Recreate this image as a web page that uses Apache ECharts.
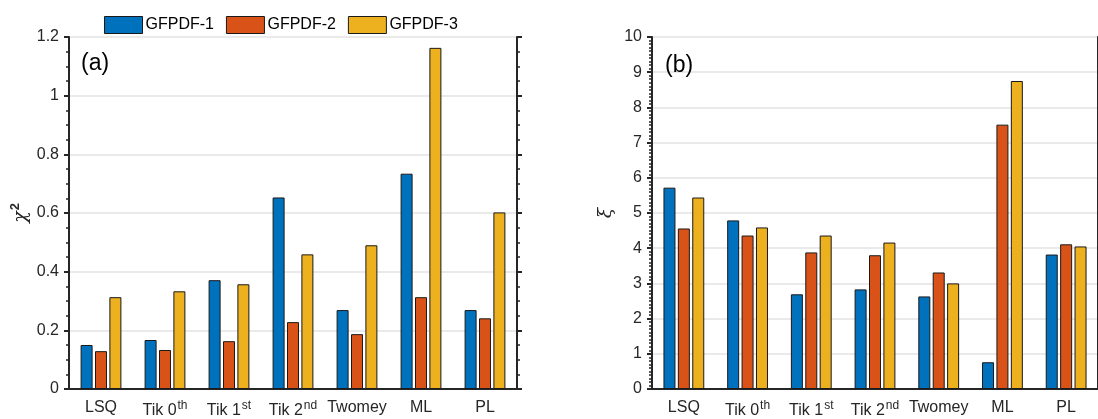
<!DOCTYPE html>
<html lang="en">
<head>
    <meta charset="UTF-8">
    <title>GFPDF comparison</title>
    <style>
        html, body {margin: 0; padding: 0; background: #fff;}
        #main {width: 1098px; height: 419px;}
    </style>
    <script src="https://cdn.jsdelivr.net/npm/echarts@6/dist/echarts.min.js"></script>
</head>
<body>
<div id="main"></div>
<script>
    // categories and their superscripts
    var methods = ['LSQ', 'Tik 0', 'Tik 1', 'Tik 2', 'Twomey', 'ML', 'PL'];
    var methodSup = ['', 'th', 'st', 'nd', '', '', ''];
    var seriesNames = ['GFPDF-1', 'GFPDF-2', 'GFPDF-3'];
    var colors = ['#0072BD', '#D95319', '#EDB120'];

    // (a) chi^2
    var chi1 = [0.150, 0.167, 0.371, 0.653, 0.269, 0.734, 0.269];
    var chi2 = [0.129, 0.133, 0.163, 0.228, 0.187, 0.313, 0.241];
    var chi3 = [0.313, 0.333, 0.357, 0.459, 0.490, 1.163, 0.602];

    // (b) xi
    var xi1 = [5.72, 4.79, 2.69, 2.83, 2.63, 0.76, 3.82];
    var xi2 = [4.56, 4.36, 3.88, 3.80, 3.31, 7.51, 4.11];
    var xi3 = [5.44, 4.59, 4.36, 4.16, 3.00, 8.75, 4.05];

    var axisColor = '#262626';
    var fontFam = '"Liberation Sans", Arial, sans-serif';

    function catLabel(value, idx) {
        var s = methodSup[idx];
        return s ? value + '{sup|' + s + '}' : value;
    }

    function bottomAxis(gi) {
        return {
            type: 'category', gridIndex: gi, data: methods, position: 'bottom',
            axisLine: {lineStyle: {color: axisColor, width: 2}},
            axisTick: {alignWithLabel: true, length: 5, lineStyle: {color: axisColor, width: 2}},
            axisLabel: {
                interval: 0,
                color: axisColor, fontSize: 16, fontFamily: fontFam, margin: 11,
                formatter: catLabel,
                rich: {sup: {fontSize: 12, fontFamily: fontFam, color: axisColor, padding: [0, 0, 10, 1]}}
            }
        };
    }
    function topAxis(gi) {
        return {
            type: 'category', gridIndex: gi, data: methods, position: 'top',
            axisLine: {lineStyle: {color: axisColor, width: 2}},
            axisTick: {alignWithLabel: true, interval: 0, length: 5, lineStyle: {color: axisColor, width: 2}},
            axisLabel: {show: false}
        };
    }
    function valueAxis(gi, max, interval, minorSplit, right, name) {
        return {
            type: 'value', gridIndex: gi, min: 0, max: max, interval: interval,
            position: right ? 'right' : 'left',
            name: right ? '' : name,
            nameLocation: 'middle', nameRotate: 90, nameGap: 36,
            nameTextStyle: {
                color: axisColor, fontSize: 19, fontFamily: fontFam,
                rich: {
                    i: {fontStyle: 'italic', fontSize: 19, fontFamily: '"DejaVu Serif", serif', color: axisColor},
                    sup: {fontSize: 13, fontWeight: 'bold', fontFamily: fontFam, color: axisColor, padding: [0, 0, 11, 1]}
                }
            },
            axisLine: {show: true, lineStyle: {color: axisColor, width: 2}},
            axisTick: {show: true, length: 5, lineStyle: {color: axisColor, width: 2}},
            minorTick: {show: true, splitNumber: minorSplit, length: 3, lineStyle: {color: axisColor, width: 1.5}},
            axisLabel: {show: !right, color: axisColor, fontSize: 16, fontFamily: fontFam, margin: 10},
            splitLine: {show: !right, lineStyle: {color: '#e3e3e3', width: 1.5}}
        };
    }
    function bars(name, data, color, xi, yi) {
        return {
            name: name, type: 'bar', xAxisIndex: xi, yAxisIndex: yi, data: data,
            barWidth: 12, barGap: '20%',
            itemStyle: {color: color, borderColor: '#1a1a1a', borderWidth: 1}
        };
    }

    var myChart = echarts.init(document.getElementById('main'));
    var option = {
        animation: false,
        color: colors,
        textStyle: {fontFamily: fontFam},
        title: [
            {text: '(a)', left: 76, top: 47, textStyle: {fontSize: 23, fontWeight: 'normal', color: '#000', fontFamily: fontFam}},
            {text: '(b)', left: 660, top: 49, textStyle: {fontSize: 23, fontWeight: 'normal', color: '#000', fontFamily: fontFam}}
        ],
        legend: {
            data: seriesNames, left: 99, top: 11,
            itemWidth: 38, itemHeight: 17, itemGap: 12,
            icon: 'rect',
            itemStyle: {borderColor: '#1a1a1a', borderWidth: 1},
            textStyle: {fontSize: 16, color: '#000', fontFamily: fontFam, padding: [0, 0, 0, -2]}
        },
        grid: [
            {left: 69, top: 37, width: 448, height: 353},
            {left: 652, top: 37, width: 447, height: 353}
        ],
        xAxis: [bottomAxis(0), topAxis(0), bottomAxis(1), topAxis(1)],
        yAxis: [
            valueAxis(0, 1.2, 0.2, 4, false, '{i|χ}{sup|2}'),
            valueAxis(0, 1.2, 0.2, 4, true, ''),
            valueAxis(1, 10, 1, 10, false, '{i|ξ}'),
            valueAxis(1, 10, 1, 10, true, '')
        ],
        series: [
            bars(seriesNames[0], chi1, colors[0], 0, 0),
            bars(seriesNames[1], chi2, colors[1], 0, 0),
            bars(seriesNames[2], chi3, colors[2], 0, 0),
            bars(seriesNames[0], xi1, colors[0], 2, 2),
            bars(seriesNames[1], xi2, colors[1], 2, 2),
            bars(seriesNames[2], xi3, colors[2], 2, 2)
        ]
    };
    myChart.setOption(option);
</script>
</body>
</html>
